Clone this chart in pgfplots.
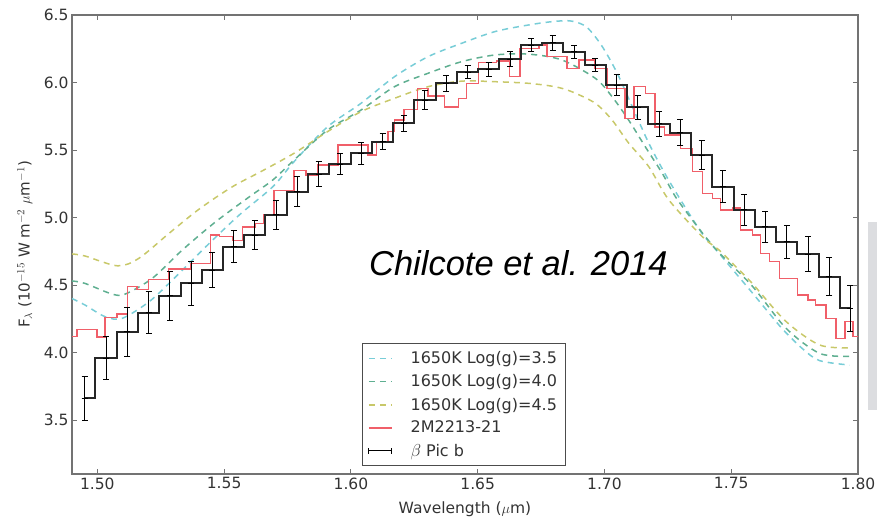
\documentclass[border=0pt]{standalone}
\usepackage{pgfplots}
\pgfplotsset{compat=1.18}
\usepackage{fontspec}
\setmainfont{DejaVu Sans}
\newfontfamily\libsans{Liberation Sans}
\definecolor{cyanc}{RGB}{120,205,215}
\definecolor{tealc}{RGB}{95,175,145}
\definecolor{yelc}{RGB}{200,200,105}
\definecolor{redc}{RGB}{240,95,105}
\definecolor{framec}{RGB}{115,115,115}
\definecolor{grayrect}{RGB}{220,221,224}
\begin{document}
\begin{tikzpicture}
\begin{axis}[
  name=ax,
  scale only axis, width=786pt, height=459pt,
  xmin=1.49, xmax=1.80, ymin=3.1, ymax=6.5,
  xtick={1.50,1.55,1.60,1.65,1.70,1.75,1.80},
  ytick={3.5,4.0,4.5,5.0,5.5,6.0,6.5},
  tick align=inside, major tick length=5pt,
  axis line style={framec, line width=1.3pt},
  tick style={framec, line width=1pt},
  x tick label style={font=\fontsize{15.5}{18}\selectfont, text=black!80,
    /pgf/number format/.cd, fixed, fixed zerofill, precision=2, assume math mode=true},
  y tick label style={font=\fontsize{15.5}{18}\selectfont, text=black!80,
    /pgf/number format/.cd, fixed, fixed zerofill, precision=1, assume math mode=true},
  xlabel={Wavelength ($\mu$m)},
  ylabel={F$_\lambda$ (10$^{-15}$ W m$^{-2}$ $\mu$m$^{-1}$)},
  xlabel style={font=\fontsize{15.5}{18}\selectfont, text=black!80, at={(axis description cs:0.5,0)}, anchor=north, yshift=-24pt},
  ylabel style={font=\fontsize{15}{18}\selectfont, text=black!80, at={(axis description cs:-0.060,0.5)}, anchor=center},
  legend style={at={(axis description cs:0.3686,0.0174)}, anchor=south west,
    draw=black!70, line width=0.8pt, font=\fontsize{16}{19}\selectfont, text=black!80,
    row sep=5.5pt, column sep=16pt, inner xsep=6pt, inner ysep=6pt},
  legend cell align=left,
  legend image code/.code={\draw[#1] (0pt,0pt) -- (23pt,0pt);},
]
\addplot[cyanc, line width=1.5pt, dash pattern=on 6pt off 5pt, smooth] coordinates {
(1.4900,4.40) (1.4951,4.352) (1.5031,4.265) (1.5098,4.253) (1.5204,4.376)
(1.5296,4.537) (1.5428,4.784) (1.5560,5.019) (1.5692,5.228) (1.5776,5.414)
(1.5908,5.672) (1.6040,5.846) (1.6172,6.043) (1.6304,6.191) (1.6436,6.29)
(1.6568,6.377) (1.6700,6.426) (1.6800,6.452) (1.6870,6.455) (1.6930,6.41)
(1.6990,6.27) (1.7050,6.07) (1.7110,5.82) (1.7175,5.55) (1.7240,5.32) (1.7307,5.11)
(1.7386,4.88) (1.7452,4.735) (1.7518,4.587) (1.7584,4.44) (1.7650,4.29)
(1.7704,4.17) (1.7780,4.03) (1.7848,3.94) (1.7967,3.907)};
\addlegendentry{1650K Log(g)=3.5}
\addplot[tealc, line width=1.5pt, dash pattern=on 6pt off 5pt, smooth] coordinates {
(1.4900,4.53) (1.4951,4.512) (1.5058,4.433) (1.5110,4.433) (1.5217,4.55)
(1.5335,4.759) (1.5467,4.969) (1.5600,5.154) (1.5692,5.278) (1.5776,5.426)
(1.5908,5.648) (1.6040,5.796) (1.6172,5.969) (1.6304,6.068) (1.6436,6.154)
(1.6568,6.204) (1.6700,6.21) (1.6832,6.167) (1.6964,6.031) (1.7030,5.895)
(1.7096,5.72) (1.7161,5.524) (1.7228,5.327) (1.7280,5.154) (1.7347,4.981)
(1.7398,4.858) (1.7454,4.735) (1.7584,4.49) (1.7716,4.18) (1.7848,3.994)
(1.7967,3.972)};
\addlegendentry{1650K Log(g)=4.0}
\addplot[yelc, line width=1.5pt, dash pattern=on 6pt off 5pt, smooth] coordinates {
(1.4900,4.73) (1.4951,4.715) (1.5080,4.642) (1.5164,4.698) (1.5283,4.883)
(1.5400,5.06) (1.5530,5.225) (1.5650,5.345) (1.5776,5.476) (1.5908,5.636)
(1.6040,5.784) (1.6172,5.883) (1.6304,5.969) (1.6436,6.01) (1.6568,6.006)
(1.6700,5.994) (1.6804,5.969) (1.6871,5.932) (1.6964,5.846) (1.7030,5.722)
(1.7096,5.55) (1.7175,5.376) (1.7254,5.13) (1.7386,4.858) (1.7452,4.759)
(1.7518,4.636) (1.7584,4.51) (1.7716,4.23) (1.7848,4.056) (1.7967,4.035)};
\addlegendentry{1650K Log(g)=4.5}
\addplot[redc, line width=1.5pt, const plot] coordinates {
(1.4900,4.12) (1.4920,4.17) (1.4999,4.115) (1.5031,4.26) (1.5078,4.285)
(1.5118,4.49) (1.5157,4.465) (1.5201,4.54) (1.5280,4.62) (1.5367,4.66)
(1.5446,4.87) (1.5482,4.86) (1.5533,4.83) (1.5573,4.93) (1.5621,4.955)
(1.5656,5.02) (1.5696,5.20) (1.5775,5.35) (1.5822,5.315) (1.5870,5.39)
(1.5949,5.537) (1.6068,5.463) (1.6100,5.56) (1.6147,5.636) (1.6171,5.722)
(1.6210,5.80) (1.6262,5.957) (1.6305,5.90) (1.6369,5.82) (1.6424,5.88)
(1.6456,5.994) (1.6503,6.15) (1.6575,6.16) (1.6626,6.043) (1.6666,6.253)
(1.6741,6.278) (1.6773,6.191) (1.6852,6.105) (1.6900,6.167) (1.6963,6.105)
(1.7010,5.957) (1.7081,5.735) (1.7117,5.969) (1.7161,5.92) (1.7200,5.672)
(1.7236,5.611) (1.7299,5.512) (1.7347,5.339) (1.7386,5.179) (1.7426,5.142)
(1.7457,5.056) (1.7505,5.07) (1.7537,4.907) (1.7584,4.87) (1.7616,4.735)
(1.7651,4.673) (1.7691,4.549) (1.7762,4.426) (1.7802,4.389) (1.7833,4.352)
(1.7873,4.253) (1.7913,4.105) (1.7948,4.228) (1.7980,4.117) (1.8015,4.117)};
\addlegendentry{2M2213-21}
\addplot[black!85, line width=2pt, const plot mark mid, forget plot] table[x=x, y=y] {
x y
1.4950 3.661
1.5034 3.957
1.5118 4.154
1.5202 4.295
1.5286 4.419
1.5370 4.512
1.5453 4.611
1.5537 4.784
1.5621 4.870
1.5705 5.019
1.5789 5.191
1.5873 5.322
1.5957 5.396
1.6041 5.476
1.6125 5.562
1.6209 5.698
1.6292 5.870
1.6376 5.994
1.6460 6.078
1.6544 6.098
1.6628 6.172
1.6712 6.278
1.6796 6.295
1.6880 6.228
1.6964 6.130
1.7048 5.981
1.7131 5.816
1.7215 5.693
1.7299 5.628
1.7383 5.463
1.7467 5.228
1.7551 5.056
1.7635 4.932
1.7719 4.821
1.7803 4.727
1.7887 4.562
1.7970 4.327
};
\addplot[black, only marks, mark=+, mark size=3pt, mark options={line width=0.9pt},
  legend image code/.code={\draw[black, line width=1pt] (0pt,0pt) -- (23pt,0pt);
    \draw[black, line width=1pt] (0pt,-3pt) -- (0pt,3pt) (23pt,-3pt) -- (23pt,3pt);},
  error bars/.cd, y dir=both, y explicit,
  error bar style={line width=0.9pt, black},
  error mark options={rotate=90, mark size=3pt, line width=0.9pt, black}]
  table[x=x, y=y, y error=e] {
x y e
1.4950 3.661 0.165
1.5034 3.957 0.16
1.5118 4.154 0.18
1.5202 4.295 0.155
1.5286 4.419 0.18
1.5370 4.512 0.16
1.5453 4.611 0.13
1.5537 4.784 0.12
1.5621 4.870 0.11
1.5705 5.019 0.105
1.5789 5.191 0.11
1.5873 5.322 0.09
1.5957 5.396 0.08
1.6041 5.476 0.08
1.6125 5.562 0.06
1.6209 5.698 0.06
1.6292 5.870 0.07
1.6376 5.994 0.06
1.6460 6.078 0.05
1.6544 6.098 0.05
1.6628 6.172 0.055
1.6712 6.278 0.05
1.6796 6.295 0.055
1.6880 6.228 0.05
1.6964 6.130 0.05
1.7048 5.981 0.075
1.7131 5.816 0.09
1.7215 5.693 0.09
1.7299 5.628 0.095
1.7383 5.463 0.11
1.7467 5.228 0.12
1.7551 5.056 0.117
1.7635 4.932 0.115
1.7719 4.821 0.123
1.7803 4.727 0.13
1.7887 4.562 0.14
1.7970 4.327 0.17
};
\addlegendentry{$\beta$ Pic b}
\node[anchor=base west, font=\libsans\itshape\fontsize{34.5}{40}\selectfont] at (axis cs:1.6058,4.574) {Chilcote et al. 2014};
\end{axis}
\pgfresetboundingbox
\path ([shift={(-72pt,-43pt)}]ax.south west) rectangle ([shift={(19pt,15pt)}]ax.north east);
\fill[grayrect] ([shift={(10pt,-207pt)}]ax.north east) rectangle ([shift={(19pt,-395pt)}]ax.north east);
\end{tikzpicture}
\end{document}
